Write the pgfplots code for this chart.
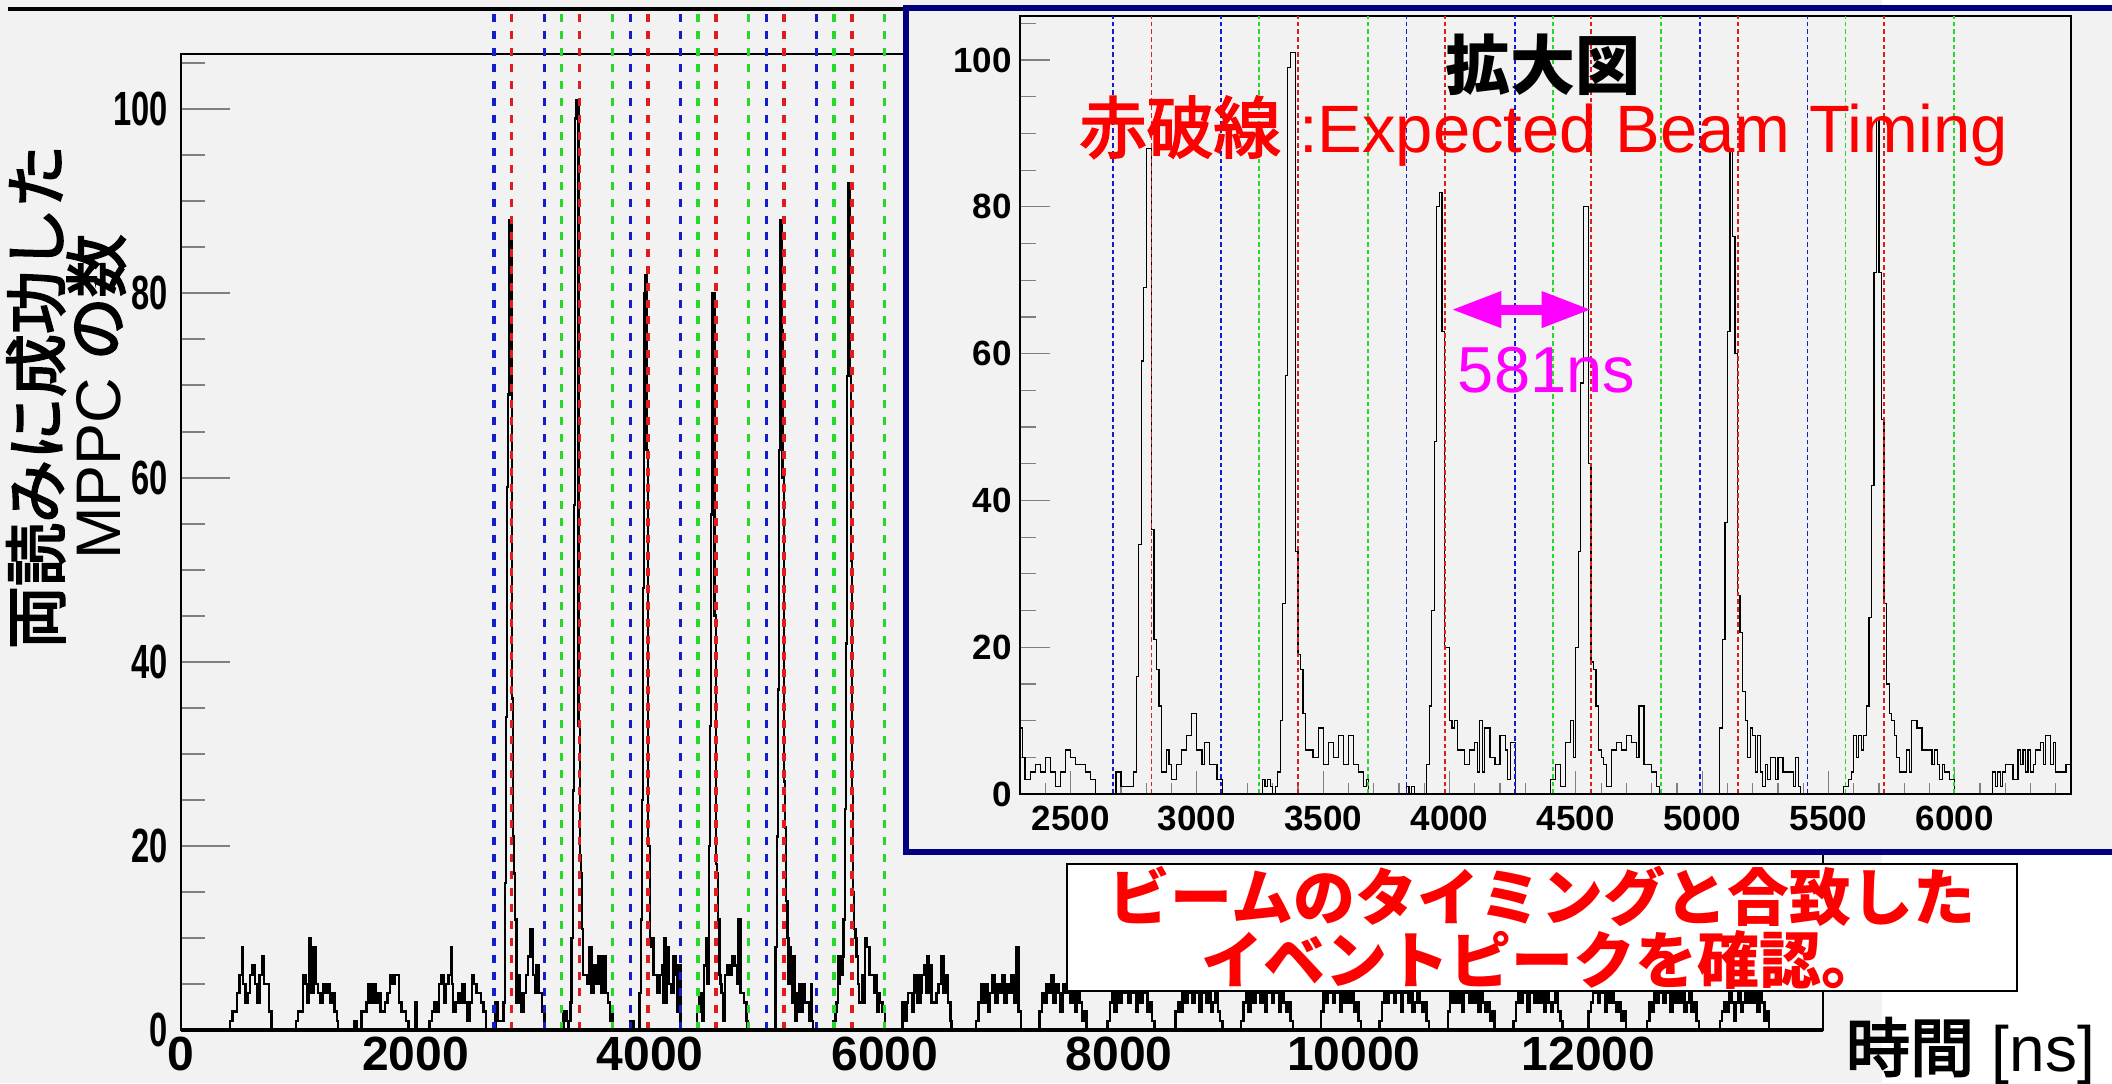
\documentclass[border=0pt]{standalone}
\usepackage{fontspec}
\setmainfont{Liberation Sans}
\newfontfamily\jp{Noto Sans CJK JP}
\newfontfamily\jpm{Noto Sans CJK JP}[FakeBold=3]
\usepackage{pgfplots}
\pgfplotsset{compat=1.18}
\usepackage{pgfplotstable}
\usetikzlibrary{arrows.meta}
\definecolor{bggrey}{RGB}{242,242,242}
\definecolor{rblue}{RGB}{20,30,200}
\definecolor{rred}{RGB}{220,30,30}
\definecolor{rgreen}{RGB}{40,215,40}
\definecolor{navyb}{RGB}{0,0,128}
\definecolor{mag}{RGB}{255,0,255}
\definecolor{pured}{RGB}{255,0,0}
\pgfplotstableread[row sep=\\]{
x y\\
0 0\\ 420 1\\ 440 2\\ 460 2\\ 480 4\\ 500 6\\ 520 9\\ 530 5\\ 550 3\\ 570 4\\ 590 6\\ 610 7\\ 630 5\\ 650 3\\ 670 6\\ 690 8\\ 710 5\\ 730 5\\ 750 2\\ 770 0\\
980 1\\ 1000 2\\ 1020 2\\ 1040 6\\ 1060 5\\ 1080 3\\ 1090 10\\ 1110 4\\ 1130 9\\ 1150 5\\ 1170 4\\ 1190 3\\ 1210 5\\ 1230 4\\ 1250 5\\ 1270 3\\ 1290 4\\ 1310 2\\ 1330 1\\ 1340 0\\
1480 1\\ 1500 0\\ 1540 2\\ 1560 2\\ 1580 3\\ 1600 5\\ 1620 3\\ 1640 5\\ 1660 3\\ 1680 4\\ 1700 2\\ 1720 2\\ 1740 3\\ 1760 4\\ 1780 6\\ 1800 5\\ 1820 6\\ 1840 6\\ 1860 3\\ 1880 2\\ 1900 2\\ 1920 1\\ 1940 0\\ 2000 3\\ 2010 0\\
2120 1\\ 2140 2\\ 2160 3\\ 2180 2\\ 2200 5\\ 2220 6\\ 2240 3\\ 2260 5\\ 2280 6\\ 2300 9\\ 2310 5\\ 2320 2\\ 2340 3\\ 2360 4\\ 2380 3\\ 2400 5\\ 2420 3\\ 2440 1\\ 2460 3\\ 2480 6\\ 2500 5\\ 2520 4\\ 2540 4\\ 2560 3\\ 2580 2\\ 2600 0\\
2680 3\\ 2700 1\\ 2750 3\\ 2760 16\\ 2770 34\\ 2780 59\\ 2790 69\\ 2800 88\\ 2820 36\\ 2830 21\\ 2840 17\\ 2850 12\\ 2860 3\\ 2880 6\\ 2890 4\\ 2900 2\\ 2920 4\\ 2940 6\\ 2960 8\\ 2980 11\\ 3000 6\\ 3020 4\\ 3030 7\\ 3050 4\\ 3080 2\\ 3100 0\\
3260 2\\ 3270 1\\ 3280 2\\ 3290 1\\ 3300 0\\ 3310 1\\ 3320 3\\ 3330 10\\ 3340 26\\ 3350 57\\ 3360 99\\ 3370 101\\ 3390 33\\ 3400 19\\ 3410 17\\ 3420 11\\ 3430 6\\ 3460 5\\ 3480 9\\ 3500 4\\ 3520 7\\ 3540 5\\ 3560 8\\ 3580 4\\ 3600 8\\ 3620 4\\ 3640 3\\ 3660 1\\ 3670 2\\ 3680 0\\
3830 1\\ 3840 0\\ 3850 1\\ 3860 0\\ 3910 4\\ 3920 12\\ 3930 25\\ 3940 48\\ 3950 80\\ 3960 82\\ 3970 63\\ 3980 20\\ 4000 10\\ 4010 9\\ 4020 10\\ 4030 6\\ 4060 4\\ 4080 6\\ 4100 7\\ 4110 3\\ 4120 10\\ 4130 3\\ 4140 9\\ 4160 5\\ 4180 4\\ 4200 8\\ 4220 6\\ 4230 2\\ 4240 7\\ 4260 0\\
4400 2\\ 4420 4\\ 4440 1\\ 4460 7\\ 4480 10\\ 4490 5\\ 4500 20\\ 4510 33\\ 4520 56\\ 4530 80\\ 4550 45\\ 4560 18\\ 4570 17\\ 4580 12\\ 4590 6\\ 4600 5\\ 4610 4\\ 4620 1\\ 4640 6\\ 4660 7\\ 4680 6\\ 4700 8\\ 4720 7\\ 4740 5\\ 4750 12\\ 4770 4\\ 4800 3\\ 4820 1\\ 4830 0\\
5070 9\\ 5080 21\\ 5090 37\\ 5100 63\\ 5110 88\\ 5120 76\\ 5130 60\\ 5140 27\\ 5150 22\\ 5160 14\\ 5170 10\\ 5180 5\\ 5190 9\\ 5200 8\\ 5210 3\\ 5220 8\\ 5230 3\\ 5240 1\\ 5250 4\\ 5260 2\\ 5270 5\\ 5290 2\\ 5300 5\\ 5320 3\\ 5360 1\\ 5370 5\\ 5380 1\\ 5390 0\\
5560 1\\ 5580 2\\ 5590 3\\ 5600 8\\ 5610 5\\ 5620 8\\ 5630 6\\ 5640 8\\ 5650 12\\ 5660 24\\ 5670 42\\ 5680 71\\ 5690 92\\ 5700 71\\ 5710 51\\ 5720 26\\ 5730 15\\ 5740 11\\ 5750 10\\ 5760 8\\ 5770 5\\ 5780 3\\ 5810 6\\ 5820 3\\ 5830 10\\ 5850 9\\ 5870 6\\ 5910 4\\ 5920 6\\ 5930 4\\ 5940 2\\ 5950 4\\ 5960 3\\ 5980 2\\ 6000 0\\
6150 3\\ 6160 1\\ 6170 3\\ 6180 1\\ 6190 3\\ 6200 4\\ 6230 2\\ 6250 6\\ 6260 4\\ 6270 6\\ 6280 3\\ 6290 6\\ 6300 3\\ 6310 4\\ 6320 6\\ 6340 7\\ 6350 4\\ 6360 8\\ 6380 4\\ 6390 7\\ 6400 3\\ 6440 4\\ 6460 5\\ 6480 8\\ 6500 4\\ 6520 6\\ 6540 3\\ 6560 1\\ 6570 0\\
6780 1\\ 6800 3\\ 6820 5\\ 6840 3\\ 6860 5\\ 6880 2\\ 6900 4\\ 6920 6\\ 6940 3\\ 6960 5\\ 6980 4\\ 7000 6\\ 7020 3\\ 7040 5\\ 7060 4\\ 7080 6\\ 7100 3\\ 7120 9\\ 7140 2\\ 7160 0\\
7320 2\\ 7340 4\\ 7360 3\\ 7380 5\\ 7400 4\\ 7420 6\\ 7440 3\\ 7460 5\\ 7480 4\\ 7500 2\\ 7520 5\\ 7540 4\\ 7560 6\\ 7580 3\\ 7600 4\\ 7620 2\\ 7640 5\\ 7660 3\\ 7680 1\\ 7700 2\\ 7720 0\\
7900 1\\ 7920 3\\ 7940 4\\ 7960 2\\ 7980 5\\ 8000 3\\ 8020 5\\ 8040 4\\ 8060 6\\ 8080 3\\ 8100 5\\ 8120 4\\ 8140 2\\ 8160 5\\ 8180 3\\ 8200 4\\ 8220 5\\ 8240 2\\ 8260 3\\ 8280 1\\ 8300 0\\
8480 2\\ 8500 3\\ 8520 2\\ 8540 4\\ 8560 3\\ 8580 5\\ 8600 4\\ 8620 3\\ 8640 5\\ 8660 4\\ 8680 2\\ 8700 4\\ 8720 5\\ 8740 3\\ 8760 4\\ 8780 2\\ 8800 3\\ 8820 4\\ 8840 2\\ 8860 1\\ 8880 0\\
9040 1\\ 9060 3\\ 9080 4\\ 9100 2\\ 9120 5\\ 9140 3\\ 9160 4\\ 9180 5\\ 9200 3\\ 9220 4\\ 9240 2\\ 9260 5\\ 9280 4\\ 9300 3\\ 9320 5\\ 9340 4\\ 9360 2\\ 9380 4\\ 9400 3\\ 9420 2\\ 9440 3\\ 9460 1\\ 9480 0\\
9720 2\\ 9740 4\\ 9760 3\\ 9780 5\\ 9800 4\\ 9820 3\\ 9840 5\\ 9860 4\\ 9880 2\\ 9900 4\\ 9920 3\\ 9940 5\\ 9960 3\\ 9980 4\\ 10000 2\\ 10020 3\\ 10040 1\\ 10060 0\\
10220 1\\ 10240 3\\ 10260 4\\ 10280 3\\ 10300 5\\ 10320 4\\ 10340 3\\ 10360 5\\ 10380 4\\ 10400 2\\ 10420 4\\ 10440 5\\ 10460 3\\ 10480 4\\ 10500 2\\ 10520 3\\ 10540 5\\ 10560 3\\ 10580 2\\ 10600 3\\ 10620 1\\ 10640 0\\
10800 2\\ 10820 4\\ 10840 3\\ 10860 5\\ 10880 3\\ 10900 4\\ 10920 2\\ 10940 5\\ 10960 4\\ 10980 3\\ 11000 5\\ 11020 3\\ 11040 4\\ 11060 2\\ 11080 4\\ 11100 3\\ 11120 2\\ 11140 3\\ 11160 1\\ 11180 2\\ 11200 0\\
11360 1\\ 11380 3\\ 11400 4\\ 11420 3\\ 11440 5\\ 11460 4\\ 11480 2\\ 11500 4\\ 11520 5\\ 11540 3\\ 11560 4\\ 11580 3\\ 11600 5\\ 11620 2\\ 11640 4\\ 11660 3\\ 11680 2\\ 11700 3\\ 11720 4\\ 11740 2\\ 11760 1\\ 11780 0\\
12000 2\\ 12020 3\\ 12040 5\\ 12060 4\\ 12080 3\\ 12100 5\\ 12120 4\\ 12140 2\\ 12160 4\\ 12180 3\\ 12200 5\\ 12220 3\\ 12240 2\\ 12260 3\\ 12280 1\\ 12300 2\\ 12320 0\\
12500 1\\ 12520 3\\ 12540 2\\ 12560 4\\ 12580 3\\ 12600 5\\ 12620 4\\ 12640 3\\ 12660 5\\ 12680 4\\ 12700 2\\ 12720 4\\ 12740 3\\ 12760 5\\ 12780 3\\ 12800 4\\ 12820 2\\ 12840 3\\ 12860 4\\ 12880 2\\ 12900 3\\ 12920 1\\ 12940 0\\
13120 1\\ 13140 2\\ 13160 3\\ 13180 2\\ 13200 4\\ 13220 3\\ 13240 1\\ 13260 3\\ 13280 4\\ 13300 2\\ 13320 3\\ 13340 4\\ 13360 3\\ 13380 5\\ 13400 3\\ 13420 4\\ 13440 2\\ 13460 4\\ 13480 3\\ 13500 1\\ 13520 2\\ 13540 0\\ 14000 0\\
}\hist
\begin{document}
\begin{tikzpicture}
\useasboundingbox (0,0) rectangle (1056pt,-541.5pt);
\fill[white] (0,0) rectangle (1056pt,-541.5pt);
\fill[bggrey] (0,0) rectangle (941pt,-541.5pt);
% main axis
\begin{axis}[
  at={(90.5pt,-515pt)}, anchor=south west, scale only axis,
  width=821pt, height=488pt,
  xmin=0, xmax=14000, ymin=0, ymax=106,
  clip=false,
  axis background/.style={fill=bggrey},
  axis line style={line width=0.9pt},
  tick pos=left, tick align=inside,
  xtick={0,2000,...,12000}, scaled x ticks=false,
  ytick={0,20,...,100}, minor ytick={5,10,...,105},
  xtick style={draw=none},
  ytick style={line width=1pt, /pgfplots/major tick length=24.5pt, /pgfplots/minor tick length=12pt},
  ticklabel style={font=\fontsize{24pt}{24pt}\selectfont\bfseries},
  /pgf/number format/1000 sep={},
  /pgf/number format/assume math mode=true,
  xticklabel style={anchor=north, inner sep=0pt, yshift=-3.5pt},
  yticklabel style={anchor=east, inner sep=0pt, xshift=-6.5pt},
  yticklabel={\scalebox{0.68}[1]{\pgfmathprintnumber{\tick}}},
]
\addplot[const plot, black, line width=1.2pt] table {\hist};
\addplot[ycomb, rblue, line width=1.6pt, dash pattern=on 4pt off 4.4pt] coordinates {(2668,111)(3097,111)(3830,111)(4259,111)(4991,111)(5417,111)};
\addplot[ycomb, rgreen, line width=1.6pt, dash pattern=on 4pt off 4.4pt] coordinates {(3247,111)(3676,111)(4408,111)(4838,111)(5567,111)(5997,111)};
\addplot[ycomb, rred, line width=1.6pt, dash pattern=on 4pt off 4.4pt] coordinates {(2820,111)(3400,111)(3981,111)(4561,111)(5141,111)(5721,111)};
\end{axis}
\draw[line width=1.6pt] (90.5pt,-515pt) -- (911.5pt,-515pt);
\draw[line width=2pt] (4pt,-4.4pt) -- (453pt,-4.4pt);
% inset box
\filldraw[fill=bggrey, draw=navyb, line width=3pt] (453pt,-3.85pt) rectangle (1064pt,-425.75pt);
\begin{axis}[
  at={(510pt,-397pt)}, anchor=south west, scale only axis,
  width=525.5pt, height=389pt,
  xmin=2300, xmax=6460, ymin=0, ymax=106,
  axis background/.style={fill=bggrey},
  axis line style={line width=0.7pt},
  tick pos=left, tick align=inside,
  xtick={2500,3000,...,6000}, minor xtick={2300,2400,...,6400},
  ytick={0,20,...,100}, minor ytick={5,10,...,105},
  scaled x ticks=false,
  xtick style={line width=0.6pt, /pgfplots/major tick length=11.5pt, /pgfplots/minor tick length=5.5pt},
  ytick style={line width=0.6pt, /pgfplots/major tick length=15pt, /pgfplots/minor tick length=7.8pt},
  ticklabel style={font=\fontsize{17.5pt}{17.5pt}\selectfont\bfseries},
  /pgf/number format/1000 sep={},
  /pgf/number format/assume math mode=true,
  xticklabel style={anchor=north, inner sep=0pt, yshift=-6pt},
  yticklabel style={anchor=east, inner sep=0pt, xshift=-4pt},
]
\addplot[const plot, black, line width=0.6pt] table {\hist};
\addplot[ycomb, rblue, line width=0.9pt, dash pattern=on 2.3pt off 1.5pt] coordinates {(2668,106)(3097,106)(3830,106)(4259,106)(4991,106)(5417,106)};
\addplot[ycomb, rgreen, line width=0.9pt, dash pattern=on 2.3pt off 1.5pt] coordinates {(3247,106)(3676,106)(4408,106)(4838,106)(5567,106)(5997,106)};
\addplot[ycomb, rred, line width=0.9pt, dash pattern=on 2.3pt off 1.5pt] coordinates {(2820,106)(3400,106)(3981,106)(4561,106)(5141,106)(5721,106)};
\node[font=\jp\bfseries\fontsize{32.5pt}{32.5pt}\selectfont] at (axis cs:4369,99.4) {拡大図};
\node[anchor=base, text=pured, font=\fontsize{33.5pt}{33.5pt}\selectfont] at (axis cs:4373,87.4) {{\jpm 赤破線} :Expected Beam Timing};
\draw[mag, line width=5pt, {Triangle[length=25pt,width=17pt]}-{Triangle[length=25pt,width=17pt]}] (axis cs:4007,66) -- (axis cs:4562,66);
\node[text=mag, font=\fontsize{32.5pt}{32.5pt}\selectfont] at (axis cs:4384,57.8) {581ns};
\end{axis}
\draw[line width=1.3pt] (510pt,-397pt) -- (1035.5pt,-397pt);
% text box
\node[draw=black, line width=0.7pt, fill=white, minimum width=475pt, minimum height=63.5pt, inner sep=0pt] at (771pt,-463.75pt) {};
\node[align=center, text=pured, font=\jp\bfseries\fontsize{31pt}{31.5pt}\selectfont] at (771pt,-463.75pt) {ビームのタイミングと合致した\\イベントピークを確認。};
% axis titles
\node[rotate=90, align=center, font=\fontsize{31.5pt}{29pt}\selectfont] at (33pt,-198.5pt) {{\jpm 両読みに成功した}\\MPPC {\jpm の数}};
\node[anchor=east, font=\fontsize{32pt}{32pt}\selectfont] at (1051pt,-525.5pt) {{\jpm 時間} [ns]};
\end{tikzpicture}
\end{document}
